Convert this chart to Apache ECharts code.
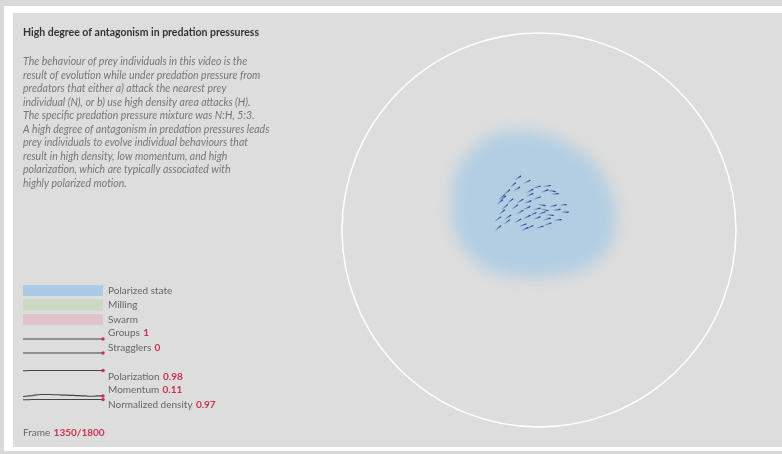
<!DOCTYPE html>
<html>
<head>
<meta charset="utf-8">
<script src="https://cdn.jsdelivr.net/npm/echarts@6/dist/echarts.min.js"></script>
<style>
  html, body { margin: 0; padding: 0; background: #fff; }
  #main { width: 782px; height: 454px; }
</style>
</head>
<body>
<div id="main"></div>
<script>
// arena units: circle of radius 100 centred on 0,0
const arenaRadius = 100;

// outline of the blurred "polarized state" region
const blobX = [-12.2, 3.0, 15.7, 28.4, 36.0, 38.6, 36.0, 25.9, 10.7, -7.1, -22.3, -35.0, -42.6, -44.2, -41.1, -32.5, -22.3];
const blobY = [50.3, 48.2, 43.1, 33.0, 20.3, 7.6, -7.6, -17.8, -22.8, -23.9, -21.3, -12.7, 0, 15.2, 30.5, 41.6, 48.2];

// prey individuals: position and heading (degrees)
const fishX = [-10.7, -6.1, -13.2, -1.0, 4.1, 3.0, 8.1, -16.2, -18.8, -4.6, -4.6, -1.0, -19.8, -14.7, -9.6, -5.6,
  1.5, 7.1, 12.2, -17.3, -12.2, -6.1, -1.0, 3.0, 9.1, 13.2, -18.8, -9.6, -3.0, 1.5, 5.6, -20.8,
  -15.7, -6.1, -1.0, 4.1, 9.6, -16.2, -10.7, -8.1, -4.6, 0.5, 4.6, -20.8, -7.1, -18.3, -11.2, 6.6];
const fishY = [26.4, 24.4, 22.8, 21.8, 22.3, 19.8, 18.3, 19.3, 16.8, 19.8, 17.8, 16.2, 14.2, 14.7, 14.7, 14.2,
  12.7, 12.2, 12.7, 11.7, 11.7, 11.2, 10.7, 10.2, 10.2, 9.1, 9.1, 9.1, 8.1, 8.6, 7.6, 5.6,
  6.6, 6.6, 6.1, 5.6, 5.1, 4.1, 4.6, 2.5, 1.5, 1.5, 3.0, 1.0, 0.5, 16.2, 20.8, 19.8];
const fishHeading = [35, 25, 40, 15, 10, 20, 5, 40, 40, 30, 25, 20, 40, 35, 30, 20,
  -10, 15, 5, 40, 35, 25, 15, -15, 10, 0, 40, 30, 25, 20, -5, 35,
  35, 25, 20, 15, 5, 40, 30, 20, 25, 15, 20, 40, 25, 35, 35, -10];

// sparkline history, sampled every 50 frames up to the current frame
const frames = [0, 50, 100, 150, 200, 250, 300, 350, 400, 450, 500, 550, 600, 650,
  700, 750, 800, 850, 900, 950, 1000, 1050, 1100, 1150, 1200, 1250, 1300, 1350];
const groups = [1, 1, 1, 1, 1, 1, 1, 1, 1, 1, 1, 1, 1, 1, 1, 1, 1, 1, 1, 1, 1, 1, 1, 1, 1, 1, 1, 1];
const stragglers = [0, 0, 0, 0, 0, 0, 0, 0, 0, 0, 0, 0, 0, 0, 0, 0, 0, 0, 0, 0, 0, 0, 0, 0, 0, 0, 0, 0];
const polarization = [0.97, 0.97, 0.98, 0.98, 0.98, 0.98, 0.98, 0.98, 0.98, 0.98, 0.98, 0.98, 0.98, 0.98,
  0.98, 0.98, 0.98, 0.98, 0.98, 0.98, 0.98, 0.98, 0.98, 0.98, 0.98, 0.98, 0.98, 0.98];
const momentum = [0.09, 0.10, 0.11, 0.12, 0.14, 0.15, 0.16, 0.16, 0.16, 0.16, 0.15, 0.15, 0.15, 0.14,
  0.14, 0.14, 0.13, 0.13, 0.12, 0.12, 0.11, 0.11, 0.10, 0.10, 0.10, 0.11, 0.11, 0.11];
const density = [0.96, 0.96, 0.96, 0.97, 0.97, 0.97, 0.97, 0.97, 0.97, 0.97, 0.97, 0.97, 0.97, 0.97,
  0.97, 0.97, 0.97, 0.97, 0.97, 0.97, 0.97, 0.97, 0.97, 0.97, 0.97, 0.97, 0.97, 0.97];

const stateNames = ['Polarized state', 'Milling', 'Swarm'];
const stateColors = ['#a9cbe4', '#c4d8bd', '#e2bcc4'];
const currentFrame = 1350, totalFrames = 1800;

const FONT = 'Lato';
const RED = '#c8324e';

const chart = echarts.init(document.getElementById('main'));

const sparkGrids = [
  { left: 23, width: 80, top: 334, height: 10 },   // groups
  { left: 23, width: 80, top: 348, height: 10 },   // stragglers
  { left: 23, width: 80, top: 370, height: 25 },   // polarization
  { left: 23, width: 80, top: 371, height: 28 },   // momentum
  { left: 23, width: 80, top: 398.9, height: 20 }  // density
];
const sparkRanges = [[0, 2], [-1, 1], [0, 1], [0, 1], [0, 1]];
const sparkData = [groups, stragglers, polarization, momentum, density];

function sparkSeries(i) {
  const last = sparkData[i].length - 1;
  return {
    type: 'line',
    xAxisIndex: i + 1,
    yAxisIndex: i + 1,
    data: sparkData[i],
    symbol: 'circle',
    symbolSize: (v, p) => (p.dataIndex === last ? 3.5 : 0),
    showAllSymbol: true,
    lineStyle: { color: '#444', width: 1.1 },
    itemStyle: { color: RED },
    silent: true
  };
}

const label = (y, name, value) => ({
  type: 'text', left: 108, top: y - 6.5,
  style: {
    text: '{a|' + name + '} {b|' + value + '}',
    rich: {
      a: { fill: '#666', fontSize: 10, fontFamily: FONT },
      b: { fill: RED, fontSize: 10, fontFamily: FONT, fontWeight: 'bold' }
    }
  }
});

const option = {
  animation: false,
  backgroundColor: '#fff',
  graphic: [
    { type: 'rect', shape: { x: 0, y: 0, width: 782, height: 6 }, style: { fill: '#d9d9d9' }, z: -10 },
    { type: 'rect', shape: { x: 0, y: 0, width: 4, height: 454 }, style: { fill: '#d9d9d9' }, z: -10 },
    { type: 'rect', shape: { x: 0, y: 451, width: 782, height: 3 }, style: { fill: '#d9d9d9' }, z: -10 },
    { type: 'rect', shape: { x: 13, y: 13, width: 769, height: 434 }, style: { fill: '#dddddd' }, z: -10 },
    label(333, 'Groups', groups[groups.length - 1]),
    label(348, 'Stragglers', stragglers[stragglers.length - 1]),
    label(377, 'Polarization', polarization[polarization.length - 1].toFixed(2)),
    label(390, 'Momentum', momentum[momentum.length - 1].toFixed(2)),
    label(405, 'Normalized density', density[density.length - 1].toFixed(2)),
    {
      type: 'text', left: 23, top: 426.5,
      style: {
        text: '{a|Frame} {b|' + currentFrame + '/' + totalFrames + '}',
        rich: {
          a: { fill: '#666', fontSize: 10, fontFamily: FONT },
          b: { fill: RED, fontSize: 10, fontFamily: FONT, fontWeight: 'bold' }
        }
      }
    }
  ],
  title: {
    left: 23, top: 26.5, padding: 0, itemGap: 15.5,
    text: 'High degree of antagonism in predation pressuress',
    textStyle: { fontFamily: FONT, fontSize: 10.5, fontWeight: 'bold', color: '#333', lineHeight: 13 },
    subtext: 'The behaviour of prey individuals in this video is the\n' +
      'result of evolution while under predation pressure from\n' +
      'predators that either a) attack the nearest prey\n' +
      'individual (N), or b) use high density area attacks (H).\n' +
      'The specific predation pressure mixture was N:H, 5:3.\n' +
      'A high degree of antagonism in predation pressures leads\n' +
      'prey individuals to evolve individual behaviours that\n' +
      'result in high density, low momentum, and high\n' +
      'polarization, which are typically associated with\n' +
      'highly polarized motion.',
    subtextStyle: { fontFamily: FONT, fontSize: 10.5, fontStyle: 'italic', color: '#777', lineHeight: 13.5 }
  },
  legend: {
    data: stateNames,
    orient: 'vertical',
    left: 23, top: 285, padding: 0,
    icon: 'rect',
    itemWidth: 80, itemHeight: 11, itemGap: 3.5,
    selectedMode: false,
    textStyle: { fontFamily: FONT, fontSize: 10, color: '#666' }
  },
  grid: [{ left: 342, top: 33, width: 394, height: 394 }].concat(sparkGrids),
  xAxis: [{ type: 'value', min: -arenaRadius, max: arenaRadius, show: false }].concat(
    sparkGrids.map((g, i) => ({ type: 'category', gridIndex: i + 1, data: frames, boundaryGap: false, show: false }))),
  yAxis: [{ type: 'value', min: -arenaRadius, max: arenaRadius, show: false }].concat(
    sparkGrids.map((g, i) => ({ type: 'value', gridIndex: i + 1, min: sparkRanges[i][0], max: sparkRanges[i][1], show: false }))),
  series: [
    {
      name: stateNames[0],
      type: 'custom',
      itemStyle: { color: stateColors[0] },
      data: [[0, 0]],
      silent: true,
      renderItem: (params, api) => {
        const OFF = 2000; // draw off-canvas, keep only the blurred shadow
        const pts = blobX.map((x, i) => {
          const p = api.coord([x, blobY[i]]);
          return [p[0] - OFF, p[1]];
        });
        return {
          type: 'polygon',
          shape: { points: pts, smooth: 0.5 },
          style: { fill: stateColors[0], shadowBlur: 14, shadowColor: 'rgba(169,203,228,0.8)', shadowOffsetX: OFF }
        };
      },
      z: 1
    },
    { name: stateNames[1], type: 'scatter', data: [], itemStyle: { color: stateColors[1] } },
    { name: stateNames[2], type: 'scatter', data: [], itemStyle: { color: stateColors[2] } },
    {
      type: 'custom',
      data: [[0, 0, arenaRadius]],
      silent: true,
      renderItem: (params, api) => {
        const c = api.coord([api.value(0), api.value(1)]);
        const r = api.size([api.value(2), 0])[0];
        return { type: 'circle', shape: { cx: c[0], cy: c[1], r: r }, style: { fill: 'none', stroke: '#fff', lineWidth: 1.5 } };
      },
      z: 2
    },
    {
      type: 'custom',
      data: fishX.map((x, i) => [x, fishY[i], fishHeading[i]]),
      silent: true,
      renderItem: (params, api) => {
        const c = api.coord([api.value(0), api.value(1)]);
        const a = api.value(2) * Math.PI / 180;
        const dx = Math.cos(a) * 3.2, dy = -Math.sin(a) * 3.2;
        return {
          type: 'line',
          shape: { x1: c[0] - dx, y1: c[1] - dy, x2: c[0] + dx, y2: c[1] + dy },
          style: {
            stroke: new echarts.graphic.LinearGradient(c[0] - dx, c[1] - dy, c[0] + dx, c[1] + dy, [
              { offset: 0, color: 'rgba(70,105,175,0.25)' },
              { offset: 1, color: '#1b3680' }
            ], true),
            lineWidth: 1.2,
            lineCap: 'round'
          }
        };
      },
      z: 3
    }
  ].concat(sparkGrids.map((g, i) => sparkSeries(i)))
};

chart.setOption(option);
</script>
</body>
</html>
